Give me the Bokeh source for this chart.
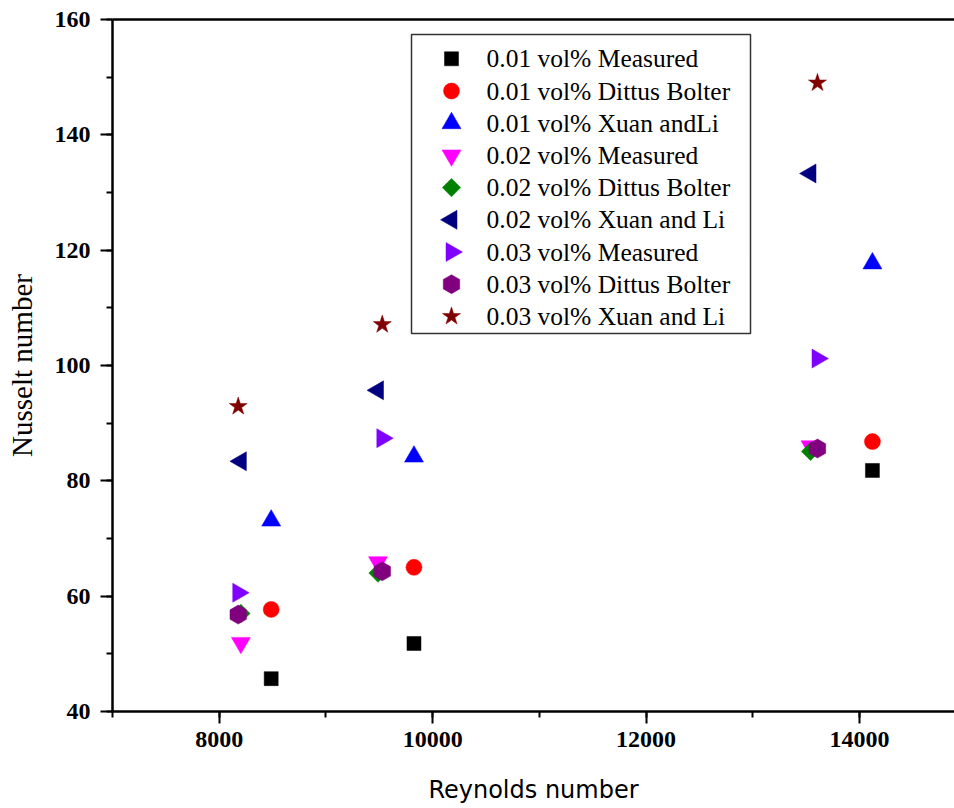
import math
from bokeh.plotting import figure
from bokeh.models import Range1d, LinearAxis, SingleIntervalTicker, FixedTicker
from bokeh.core.properties import value
from bokeh.embed import file_html
from bokeh.resources import INLINE

# Reynolds numbers per concentration
re_001 = [8487, 9825, 14121]
re_002 = [8203, 9488, 13541]
re_003 = [8178, 9528, 13606]

# Nusselt numbers
nu_001_measured = [45.7, 51.8, 81.8]
nu_001_dittus = [57.7, 65.0, 86.8]
nu_001_xuan = [73.1, 84.2, 117.7]
nu_002_measured = [51.9, 65.9, 86.0]
nu_002_dittus = [57.0, 64.0, 85.1]
nu_002_xuan = [83.4, 95.7, 133.3]
nu_003_measured = [60.6, 87.4, 101.2]
nu_003_dittus = [56.8, 64.3, 85.6]
nu_003_xuan = [92.9, 107.1, 149.0]

labels = [
    "0.01 vol% Measured", "0.01 vol% Dittus Bolter", "0.01 vol% Xuan andLi",
    "0.02 vol% Measured", "0.02 vol% Dittus Bolter", "0.02 vol% Xuan and Li",
    "0.03 vol% Measured", "0.03 vol% Dittus Bolter", "0.03 vol% Xuan and Li",
]
xs = [re_001, re_001, re_001, re_002, re_002, re_002, re_003, re_003, re_003]
ys = [nu_001_measured, nu_001_dittus, nu_001_xuan,
      nu_002_measured, nu_002_dittus, nu_002_xuan,
      nu_003_measured, nu_003_dittus, nu_003_xuan]

# styles
markers = ["square", "circle", "triangle", "inverted_triangle", "square",
           "triangle", "triangle", "hex", "star"]
colors = ["#000000", "#FF0000", "#0000FF", "#FF00FF", "#008000",
          "#000080", "#8000FF", "#800080", "#800000"]
sizes = [14, 16, 19, 19, 13, 19, 19, 19, 19]
angles = [0, 0, 0, 0, math.pi / 4, math.pi / 2, -math.pi / 2, math.pi / 2, 0]

W, H = 954, 808
ML, MR, MT, MB = 112, 0, 19, 97
FW, FH = W - ML - MR, H - MT - MB

p = figure(width=W, height=H,
           x_range=Range1d(7000, 14890), y_range=Range1d(40, 160),
           output_backend="svg", toolbar_location=None,
           min_border_left=ML, min_border_right=MR,
           min_border_top=MT, min_border_bottom=MB)
p.outline_line_color = None
p.xgrid.visible = False
p.ygrid.visible = False
p.background_fill_color = "white"
p.border_fill_color = "white"

# pixel ranges for the legend block (origin at frame top-left)
p.extra_x_ranges = {"px": Range1d(0, FW)}
p.extra_y_ranges = {"py": Range1d(FH, 0)}

p.xaxis.ticker = SingleIntervalTicker(interval=2000, num_minor_ticks=2)
p.yaxis.ticker = SingleIntervalTicker(interval=20, num_minor_ticks=2)

for ax in (p.xaxis[0], p.yaxis[0]):
    ax.axis_line_width = 2.5
    ax.axis_line_color = "black"
    ax.major_tick_line_width = 2
    ax.minor_tick_line_width = 2
    ax.major_tick_line_color = "black"
    ax.minor_tick_line_color = "black"
    ax.major_tick_out = 12
    ax.major_tick_in = 0
    ax.minor_tick_out = 6
    ax.minor_tick_in = 0
    ax.major_label_text_font = "Liberation Serif"
    ax.major_label_text_font_style = "bold"
    ax.major_label_text_font_size = "24px"
    ax.major_label_text_color = "black"
    ax.axis_label_text_color = "black"
    ax.axis_label_text_font_style = "normal"

p.xaxis.major_label_standoff = 8
p.yaxis.major_label_standoff = 10
p.xaxis.axis_label = "Reynolds number"
p.xaxis.axis_label_text_font = "DejaVu Sans"
p.xaxis.axis_label_text_font_size = "24px"
p.xaxis.axis_label_standoff = 26
p.yaxis.axis_label = "Nusselt number"
p.yaxis.axis_label_text_font = "Liberation Serif"
p.yaxis.axis_label_text_font_size = "29px"
p.yaxis.axis_label_standoff = 14

top = LinearAxis(ticker=FixedTicker(ticks=[]), axis_line_width=2.5,
                 axis_line_color="black",
                 major_tick_line_color=None, minor_tick_line_color=None,
                 major_label_text_font_size="0px")
p.add_layout(top, "above")

# data
for lab, x, y, m, c, s, a in zip(labels, xs, ys, markers, colors, sizes, angles):
    p.scatter(x=x, y=y, marker=m, size=s, angle=a,
              fill_color=c, line_color=c, line_width=0.5)

# legend block (pixel coordinates inside the frame)
box_l, box_r, box_t, box_b = 299, 638, 15, 314
row0, pitch = 39.3, 32.2
mark_x, text_x = 339, 374
p.quad(left=[box_l], right=[box_r], top=[box_t], bottom=[box_b],
       x_range_name="px", y_range_name="py",
       fill_color="white", line_color="#333333", line_width=1.5)
rows = [row0 + i * pitch for i in range(len(labels))]
for i, (lab, m, c, s, a) in enumerate(zip(labels, markers, colors, sizes, angles)):
    p.scatter(x=[mark_x], y=[rows[i]], marker=m, size=s, angle=a,
              fill_color=c, line_color=c, line_width=0.5,
              x_range_name="px", y_range_name="py")
p.text(x=[text_x] * len(labels), y=rows, text=labels,
       x_range_name="px", y_range_name="py",
       text_font=value("Liberation Serif"), text_font_size="25.5px",
       text_color="black", text_align="left", text_baseline="middle")

open("out.html", "w").write(file_html(p, INLINE))
